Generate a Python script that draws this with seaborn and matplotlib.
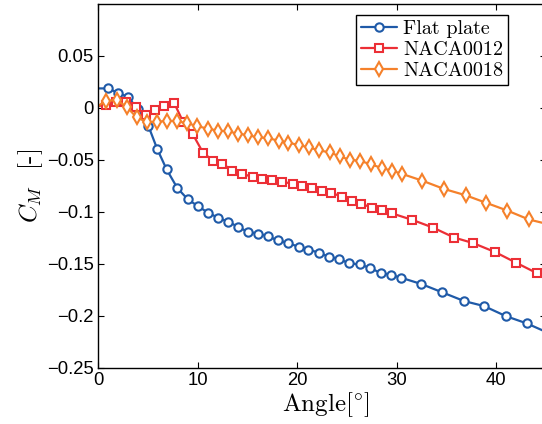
import numpy as np
import pandas as pd
import matplotlib
matplotlib.use("Agg")
import matplotlib.pyplot as plt
import seaborn as sns

# ---------------- data ----------------
flat_x = [-1.0, 0.97, 1.98, 3.05, 4.0, 5.06, 5.96, 6.9, 7.97, 9.01, 10.02, 11.09, 12.09,
          13.1, 14.1, 15.1, 16.1, 17.06, 18.06, 19.12, 20.2, 21.1, 22.2, 23.2, 24.2,
          25.25, 26.3, 27.3, 28.4, 29.4, 30.45, 32.5, 34.6, 36.8, 38.8, 41.0, 43.1, 45.2]
flat_y = [0.0185, 0.0185, 0.0145, 0.0101, -0.0017, -0.0175, -0.0400, -0.0595, -0.0773,
          -0.0881, -0.0946, -0.1013, -0.1060, -0.1098, -0.1148, -0.1197, -0.1212, -0.1238,
          -0.1276, -0.1302, -0.1341, -0.1366, -0.1394, -0.1435, -0.1455, -0.1498, -0.1508,
          -0.1541, -0.1590, -0.1609, -0.1636, -0.1697, -0.1777, -0.1861, -0.1909, -0.2006,
          -0.2076, -0.2165]

n12_x = [-1.0, 0.77, 1.78, 2.78, 3.79, 4.79, 5.73, 6.66, 7.64, 8.57, 9.52, 10.55, 11.59,
         12.51, 13.5, 14.5, 15.53, 16.48, 17.49, 18.52, 19.55, 20.5, 21.5, 22.54, 23.4,
         24.52, 25.5, 26.43, 27.54, 28.5, 29.5, 31.56, 33.67, 35.8, 37.7, 39.9, 42.0, 44.1]
n12_y = [-0.0005, 0.0029, 0.0056, 0.0056, 0.0008, -0.0069, -0.0024, 0.0019, 0.0048,
         -0.0140, -0.0255, -0.0432, -0.0513, -0.0538, -0.0607, -0.0636, -0.0667, -0.0691,
         -0.0698, -0.0713, -0.0732, -0.0751, -0.0771, -0.0798, -0.0819, -0.0855, -0.0894,
         -0.0923, -0.0963, -0.0987, -0.1016, -0.1079, -0.1154, -0.1250, -0.1303, -0.1389,
         -0.1491, -0.1592]

n18_x = [-1.0, 0.77, 1.88, 2.88, 3.89, 4.89, 5.9, 6.9, 7.91, 8.91, 9.95, 11.09, 12.06,
         13.1, 14.07, 15.1, 16.1, 17.1, 18.16, 19.13, 20.23, 21.24, 22.24, 23.3, 24.3,
         25.3, 26.36, 27.47, 28.5, 29.5, 30.58, 32.6, 34.77, 36.95, 38.99, 41.13, 43.3, 45.4]
n18_y = [-0.0055, 0.0067, 0.0072, 0.0008, -0.0094, -0.0137, -0.0137, -0.0127, -0.0130,
         -0.0149, -0.0176, -0.0205, -0.0220, -0.0229, -0.0250, -0.0265, -0.0287, -0.0292,
         -0.0320, -0.0337, -0.0361, -0.0383, -0.0412, -0.0430, -0.0470, -0.0501, -0.0513,
         -0.0546, -0.0581, -0.0605, -0.0638, -0.0703, -0.0782, -0.0843, -0.0915, -0.0990,
         -0.1076, -0.1125]

series_names = ["Flat plate", "NACA0012", "NACA0018"]
x_ticks = [0, 10, 20, 30, 40]
x_ticklabels = ["0", "10", "20", "30", "40"]
y_ticks = [-0.25, -0.2, -0.15, -0.1, -0.05, 0, 0.05]
y_ticklabels = ["\u22120.25", "\u22120.2", "\u22120.15", "\u22120.1", "\u22120.05", "0", "0.05"]

# ---------------- styling ----------------
sns.set_style("ticks")
plt.rcParams["font.family"] = ["Liberation Sans", "DejaVu Sans"]
plt.rcParams["mathtext.fontset"] = "cm"
plt.rcParams["xtick.direction"] = "in"
plt.rcParams["ytick.direction"] = "in"
plt.rcParams["text.color"] = "black"
plt.rcParams["xtick.color"] = "black"
plt.rcParams["ytick.color"] = "black"
plt.rcParams["axes.labelcolor"] = "black"

colors = ["#1f5aa8", "#ec2f36", "#f5812b"]
markers = ["o", "s", "d"]
msizes = [6.0, 5.2, 7.2]

fig = plt.figure(figsize=(5.42, 4.24), dpi=100)
ax = fig.add_axes([98 / 542, 56.5 / 424, 447.75 / 542, 363.8 / 424])

xs = [flat_x, n12_x, n18_x]
ys = [flat_y, n12_y, n18_y]
for name, x, y, c, m, ms in zip(series_names, xs, ys, colors, markers, msizes):
    df = pd.DataFrame({"Angle": x, "CM": y})
    sns.lineplot(data=df, x="Angle", y="CM", ax=ax, sort=False, estimator=None,
                 color=c, linewidth=1.6, marker=m, markersize=ms,
                 markerfacecolor="white", markeredgecolor=c, markeredgewidth=1.5,
                 label=name)

ax.set_xlim(0, 45)
ax.set_ylim(-0.25, 0.1)
ax.set_xticks(x_ticks)
ax.set_xticklabels(x_ticklabels)
ax.set_yticks(y_ticks)
ax.set_yticklabels(y_ticklabels)
ax.tick_params(axis="both", which="both", labelsize=13.3, length=4, width=0.8,
               color="black", labelcolor="black", top=True, right=True, pad=3)
for sp in ax.spines.values():
    sp.set_visible(True)
    sp.set_linewidth(1.0)
    sp.set_color("black")

ax.set_xlabel("Angle[\u00b0]", fontsize=18, family="cmr10")
ax.set_xlabel(r"Angle$[^{\circ}]$", fontsize=18, family="cmr10")
ax.set_ylabel(r"$C_M$  [-]", fontsize=18, family="cmr10")
ax.xaxis.set_label_coords(0.509, -0.062)
ax.yaxis.set_label_coords(-0.118, 0.5)

leg = ax.legend(loc="upper right", bbox_to_anchor=((508 - 98) / 447.75, (363.8 - 11) / 363.8),
                frameon=True, fancybox=False, framealpha=1,
                edgecolor="black", handlelength=1.8, handletextpad=0.3,
                labelspacing=0.15, borderpad=0.25, borderaxespad=0.0,
                prop={"family": "cmr10", "size": 14.5})
leg.get_frame().set_linewidth(1.0)

fig.savefig("out.png", dpi=100)
